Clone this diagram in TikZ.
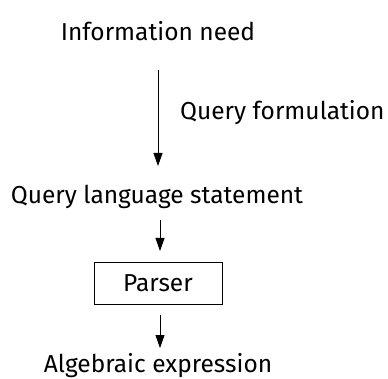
\documentclass[tikz,border=0pt]{standalone}
\usepackage{fontspec}
\setmainfont{Fira Sans}
\usetikzlibrary{arrows.meta}
\begin{document}
\begin{tikzpicture}[x=1pt,y=-1pt,
  lbl/.style={inner sep=0pt,font=\fontsize{24.5}{28}\selectfont},
  flow/.style={draw=black,line width=0.9pt,-{Triangle[width=9pt,length=13pt]}},
  box/.style={draw=black,line width=0.9pt,minimum width=128pt,minimum height=42pt,inner sep=0pt,font=\fontsize{24.5}{28}\selectfont}]
  \useasboundingbox (0,0) rectangle (388,379);
  \node[lbl] (need) at (158,31) {Information need};
  \node[lbl,anchor=west] (qf) at (180,113) {Query formulation};
  \node[lbl] (qls) at (157,197) {Query language statement};
  \node[box] (parser) at (158,283) {Parser};
  \node[lbl] (alg) at (158,366) {Algebraic expression};
  \coordinate (a1s) at (158,70);
  \coordinate (a1e) at (158,166);
  \coordinate (a2s) at (160,220);
  \coordinate (a2e) at (160,251);
  \coordinate (a3s) at (160,315);
  \coordinate (a3e) at (160,348);
  \draw[flow] (a1s) -- (a1e);
  \draw[flow] (a2s) -- (a2e);
  \draw[flow] (a3s) -- (a3e);
\end{tikzpicture}
\end{document}
